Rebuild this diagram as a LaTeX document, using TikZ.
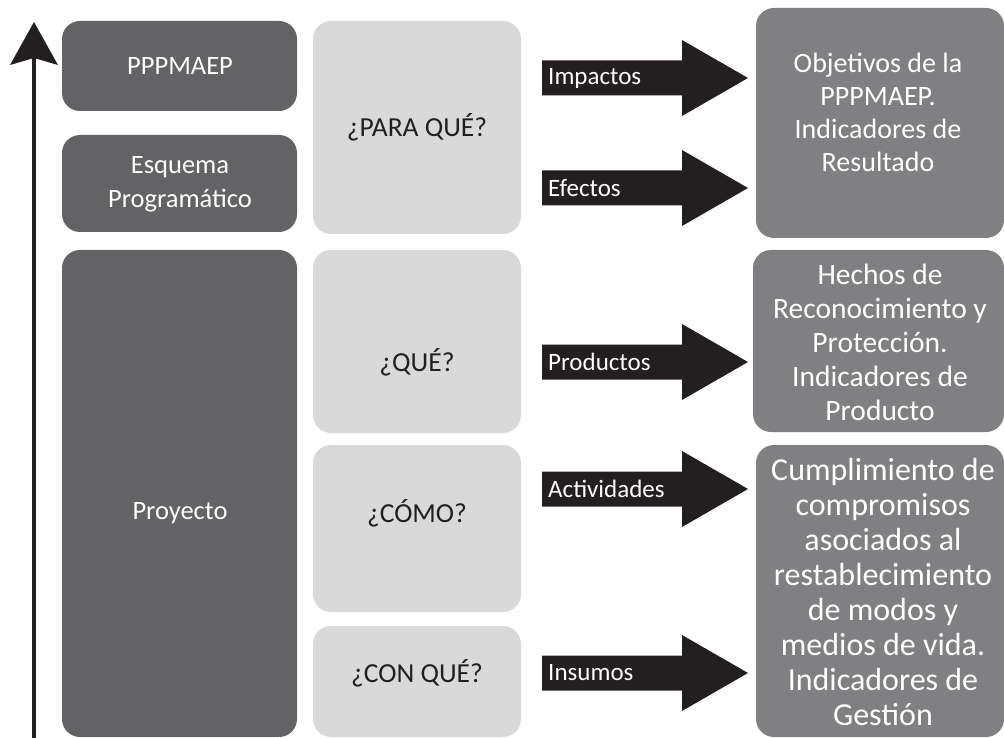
\documentclass[tikz,border=0pt]{standalone}
\usepackage{fontspec}
\setmainfont{Carlito}
\definecolor{darkbox}{RGB}{99,99,101}
\definecolor{lightbox}{RGB}{217,217,218}
\definecolor{greybox}{RGB}{128,128,131}
\definecolor{ink}{RGB}{35,31,32}
\tikzset{
  dbox/.style={fill=darkbox, rounded corners=18pt},
  lbox/.style={fill=lightbox, rounded corners=18pt},
  gbox/.style={fill=greybox, rounded corners=18pt},
  dtxt/.style={text=white, align=center, font=\fontsize{26.5}{34}\selectfont},
  ltxt/.style={text=ink, align=center, font=\fontsize{27.5}{34}\selectfont},
  gtxt/.style={text=white, align=center},
  albl/.style={anchor=west, text=white, font=\fontsize{25}{28}\selectfont, inner sep=0pt},
}
\newcommand{\bigarrow}[2]{%
  \fill[ink] (542,#1-17.5) -- (682,#1-17.5) -- (682,#1-38) -- (748,#1) -- (682,#1+38) -- (682,#1+17.5) -- (542,#1+17.5) -- cycle;
  \node[albl] (#2) at (548,#1) {#2};
}
\begin{document}
\begin{tikzpicture}[x=1pt,y=-1pt]
\useasboundingbox (0,0) rectangle (1004,738);
% vertical arrow
\coordinate (vb) at (34,738);
\coordinate (vt) at (34,22);
\draw[ink, line width=4pt] (vb) -- (34,58);
\fill[ink] (vt) -- (58,65) -- (34,58) -- (10,65) -- cycle;
% dark boxes
\path[dbox] (62,21) rectangle (297,111);
\node[dtxt] (pp) at (180,66) {PPPMAEP};
\path[dbox] (62,135) rectangle (297,232);
\node[dtxt] (esq) at (180,184) {Esquema\\Programático};
\path[dbox] (62,250) rectangle (297,737);
\node[dtxt] (proy) at (180,513) {Proyecto};
% light boxes
\path[lbox] (313,21) rectangle (521,234);
\node[ltxt] (para) at (417,127) {¿PARA QUÉ?};
\path[lbox] (313,250) rectangle (521,433);
\node[ltxt] (que) at (417,362) {¿QUÉ?};
\path[lbox] (313,445) rectangle (521,612);
\node[ltxt] (como) at (417,513) {¿CÓMO?};
\path[lbox] (313,626) rectangle (521,737);
\node[ltxt] (conque) at (417,673) {¿CON QUÉ?};
% grey boxes
\path[gbox] (756,8) rectangle (1004,238);
\node[gtxt, font=\fontsize{28}{33}\selectfont] (obj) at (878,112) {Objetivos de la\\PPPMAEP.\\Indicadores de\\Resultado};
\path[gbox] (753,250) rectangle (1004,432);
\node[gtxt, font=\fontsize{29.5}{34}\selectfont] (hech) at (880,342) {Hechos de\\Reconocimiento y\\Protección.\\Indicadores de\\Producto};
\path[gbox] (756,445) rectangle (1004,737);
\node[gtxt, font=\fontsize{32}{35}\selectfont] (cump) at (883,592) {Cumplimiento de\\compromisos\\asociados al\\restablecimiento\\de modos y\\medios de vida.\\Indicadores de\\Gestión};
% arrows
\bigarrow{78}{Impactos}
\bigarrow{188}{Efectos}
\bigarrow{362}{Productos}
\bigarrow{489}{Actividades}
\bigarrow{673}{Insumos}
\end{tikzpicture}
\end{document}
